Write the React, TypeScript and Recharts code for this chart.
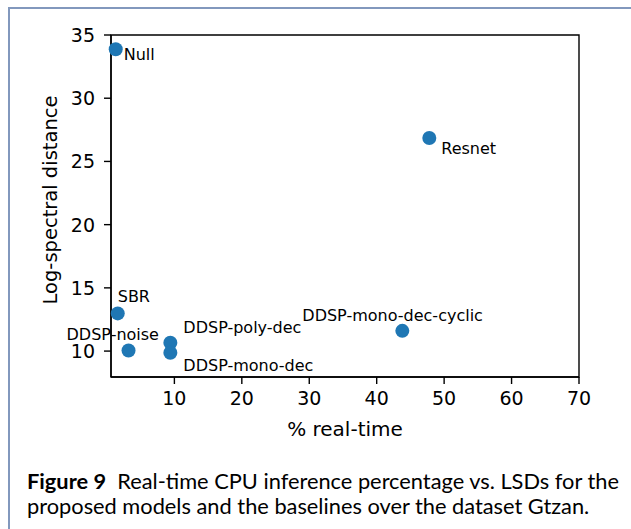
import React from "react"
import {
  ScatterChart,
  Scatter,
  XAxis,
  YAxis,
  ReferenceArea,
} from "recharts"

// model names, % real-time (x) and log-spectral distance (y)
const models = [
  "Null",
  "Resnet",
  "SBR",
  "DDSP-noise",
  "DDSP-poly-dec",
  "DDSP-mono-dec",
  "DDSP-mono-dec-cyclic",
]
const realTime = [1.3, 47.8, 1.6, 3.2, 9.4, 9.4, 43.8]
const lsd = [33.87, 26.85, 12.98, 10.05, 10.66, 9.87, 11.6]

const xTicks = [10, 20, 30, 40, 50, 60, 70]
const yTicks = [10, 15, 20, 25, 30, 35]

// where each annotation sits relative to its point
const labelOffsets: Record<string, [number, number]> = {
  "Null": [8, 11],
  "Resnet": [12, 16],
  "SBR": [0, -11],
  "DDSP-noise": [-62, -10],
  "DDSP-poly-dec": [13, -10],
  "DDSP-mono-dec": [13, 18],
  "DDSP-mono-dec-cyclic": [-100, -10],
}

const data = models.map((name, i) => ({ name, x: realTime[i], y: lsd[i] }))

const FONT = "'DejaVu Sans', sans-serif"
const BLUE = "#1f77b4"

const PointWithLabel = (props: any) => {
  const { cx, cy, payload } = props
  const [dx, dy] = labelOffsets[payload.name] || [8, 0]
  return (
    <g>
      <circle cx={cx} cy={cy} r={7} fill={BLUE} />
      <text x={cx + dx} y={cy + dy} fontSize={16} fontFamily={FONT} fill="#000">
        {payload.name}
      </text>
    </g>
  )
}

const XTick = (props: any) => {
  const { x, y, payload } = props
  return (
    <text x={x} y={y + 21} textAnchor="middle" fontSize={19} fontFamily={FONT} fill="#000">
      {payload.value}
    </text>
  )
}

const YTick = (props: any) => {
  const { x, y, payload } = props
  return (
    <text x={x - 9} y={y + 7} textAnchor="end" fontSize={19} fontFamily={FONT} fill="#000">
      {payload.value}
    </text>
  )
}

const YLabel = (props: any) => {
  const { viewBox } = props
  const x = viewBox.x - 1
  const y = viewBox.y + viewBox.height / 2 - 6
  return (
    <text
      x={x}
      y={y}
      transform={`rotate(-90, ${x}, ${y})`}
      textAnchor="middle"
      dominantBaseline="central"
      fontSize={19.5}
      fontFamily={FONT}
      fill="#000"
    >
      Log-spectral distance
    </text>
  )
}

const XLabel = (props: any) => {
  const { viewBox } = props
  const x = viewBox.x + viewBox.width / 2
  return (
    <text x={x} y={436} textAnchor="middle" fontSize={20} fontFamily={FONT} fill="#000">
      % real-time
    </text>
  )
}

export default function App() {
  return (
    <div
      style={{
        position: "absolute",
        left: 0,
        top: 0,
        width: 631,
        height: 529,
        background: "#fff",
        overflow: "hidden",
      }}
    >
      <div
        style={{
          position: "absolute",
          left: 8,
          top: 7,
          right: -4,
          bottom: -4,
          borderTop: "2px solid #8298bd",
          borderLeft: "2px solid #8298bd",
        }}
      />
      <div style={{ position: "absolute", left: 0, top: 0 }}>
        <ScatterChart
          width={631}
          height={450}
          margin={{ top: 35, right: 52, left: 51, bottom: 43 }}
        >
          <XAxis
            type="number"
            dataKey="x"
            domain={[0.6, 70]}
            ticks={xTicks}
            height={30}
            tickSize={7}
            tickMargin={0}
            tick={<XTick />}
            axisLine={{ stroke: "#000", strokeWidth: 1.4 }}
            tickLine={{ stroke: "#000", strokeWidth: 1.4 }}
            label={<XLabel />}
          />
          <YAxis
            type="number"
            dataKey="y"
            domain={[7.95, 35]}
            ticks={yTicks}
            width={60}
            tickSize={7}
            tickMargin={0}
            tick={<YTick />}
            axisLine={{ stroke: "#000", strokeWidth: 1.4 }}
            tickLine={{ stroke: "#000", strokeWidth: 1.4 }}
            label={<YLabel />}
          />
          <ReferenceArea
            x1={0.6}
            x2={70}
            y1={7.95}
            y2={35}
            fill="none"
            stroke="#000"
            strokeWidth={1.4}
            strokeOpacity={1}
            fillOpacity={0}
          />
          <Scatter data={data} shape={<PointWithLabel />} isAnimationActive={false} />
        </ScatterChart>
      </div>
      <div
        style={{
          position: "absolute",
          left: 27,
          top: 468,
          width: 610,
          fontFamily: "Lato, sans-serif",
          fontSize: 21.8,
          lineHeight: "25px",
          color: "#000",
          whiteSpace: "nowrap",
        }}
      >
        <b>Figure 9</b>&nbsp; Real-time CPU inference percentage vs. LSDs for the
        <br />
        proposed models and the baselines over the dataset Gtzan.
      </div>
    </div>
  )
}
